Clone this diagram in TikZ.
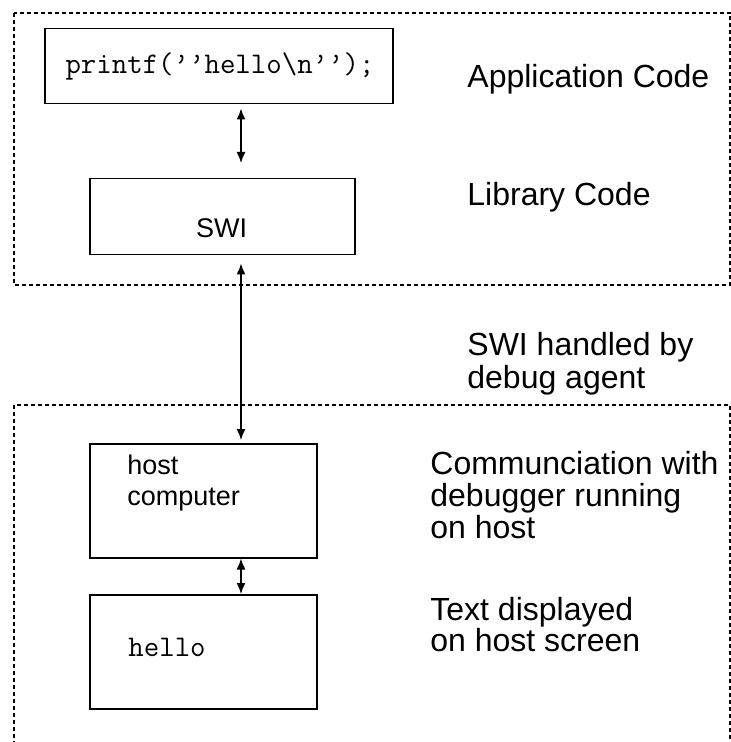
\documentclass[tikz,border=0pt]{standalone}
\usepackage{fontspec}
\setmainfont{Liberation Sans}
\usetikzlibrary{arrows.meta}

\tikzset{
  frame/.style={line width=1.2pt, dash pattern=on 2pt off 1.5pt},
  box/.style={draw, line width=0.75pt, inner sep=0pt, anchor=north west},
  link/.style={line width=0.7pt, {Latex[length=5.5pt,width=4.5pt]}-{Latex[length=5.5pt,width=4.5pt]}},
  note/.style={anchor=base west, inner sep=0pt, font=\fontsize{16}{16}\selectfont},
  inbox/.style={anchor=base west, inner sep=0pt, font=\fontsize{13.5}{15.5}\selectfont},
  code/.style={inner sep=0pt, font=\ttfamily\fontsize{15}{17}\selectfont}
}

\begin{document}
\begin{tikzpicture}[x=0.5pt, y=-0.5pt]

\useasboundingbox (0,0) rectangle (731,742);

% the two dashed regions
\draw [frame] (14,13) rectangle (730.5,285);
\draw [frame] (14,405) rectangle (730.5,770);

% boxes
\node [box, minimum width=174pt, minimum height=37.5pt] (printf) at (44,28) {};
\node [box, minimum width=132.5pt, minimum height=38pt] (swi) at (89,178) {};
\node [box, minimum width=113.5pt, minimum height=57pt] (host) at (89,443) {};
\node [box, minimum width=113.5pt, minimum height=57pt] (screen) at (89,594) {};

% box texts
\node [code, anchor=base] (printftxt) at (220,74) {printf(’’hello\textbackslash n’’);};
\node [inbox, anchor=base] (switxt) at (221.5,238) {SWI};
\node [inbox] (hosttxt1) at (127,474) {host};
\node [inbox] (hosttxt2) at (127,505) {computer};
\node [code, anchor=base west] (hellotxt) at (128,656) {hello};

% arrows
\coordinate (axis) at (241,0);
\draw [link, shorten <=2pt, shorten >=7.5pt] (printf.south -| axis) -- (swi.north -| axis);
\draw [link, shorten <=4pt, shorten >=1.5pt] (swi.south -| axis) -- (host.north -| axis);
\draw [link] (host.south -| axis) -- (screen.north -| axis);

% notes on the right
\node [note] (app) at (467,88) {Application Code};
\node [note] (lib) at (467,206) {Library Code};
\node [note] (handled1) at (467,356) {SWI handled by};
\node [note] (handled2) at (467,388) {debug agent};
\node [note] (comm1) at (430,474) {Communciation with};
\node [note] (comm2) at (430,506) {debugger running};
\node [note] (comm3) at (430,538) {on host};
\node [note] (shown1) at (430,620) {Text displayed};
\node [note] (shown2) at (430,651) {on host screen};

\end{tikzpicture}
\end{document}
